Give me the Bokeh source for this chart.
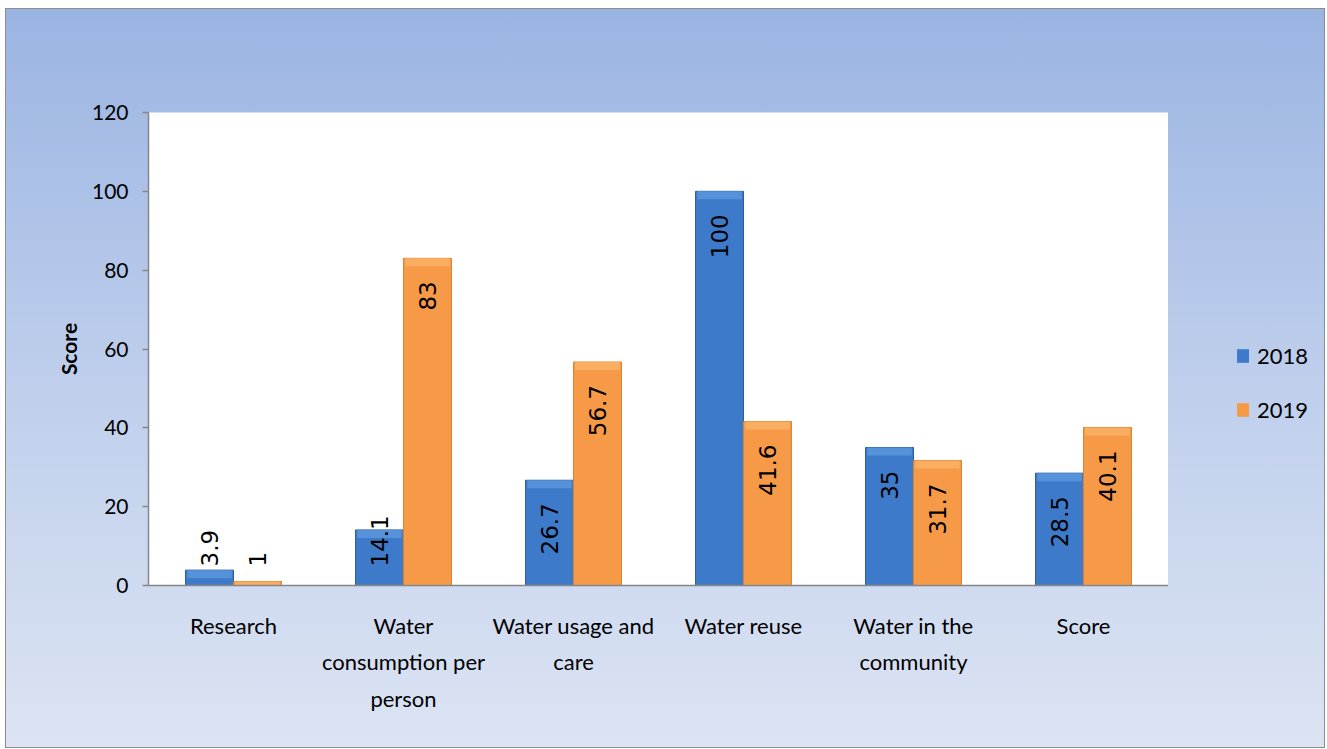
import math
from bokeh.plotting import figure
from bokeh.layouts import row
from bokeh.models import ColumnDataSource, FactorRange, Range1d, FixedTicker, Legend, LegendItem
from bokeh.transform import dodge
from bokeh.core.properties import value
from bokeh.embed import file_html
from bokeh.resources import INLINE

# ---------------- data ----------------
categories = ["Research", "Water\nconsumption per\nperson", "Water usage and\ncare",
              "Water reuse", "Water in the\ncommunity", "Score"]
series_names = ["2018", "2019"]
values_2018 = [3.9, 14.1, 26.7, 100, 35, 28.5]
values_2019 = [1, 83, 56.7, 41.6, 31.7, 40.1]
labels_2018 = ["3.9", "14.1", "26.7", "100", "35", "28.5"]
labels_2019 = ["1", "83", "56.7", "41.6", "31.7", "40.1"]
y_ticks = [0, 20, 40, 60, 80, 100, 120]
y_title = "Score"

# ---------------- layout / style ----------------
H = 740
FRAME_W, FRAME_H = 1020, 473
BL, BT = 143, 104
W_MAIN = BL + FRAME_W
W_LEG = 157
Y_MAX = 120
OFF = 0.141
BW = 0.282
PX_PER_UNIT = FRAME_H / Y_MAX
BEVEL_PX = 8
PAD_TOP = 23
BASE_PAD = 19
MAIN_FONT = "Lato"
LABEL_FONT = "DejaVu Sans"
LABEL_SIZE = 23

BLUE, BLUE_EDGE, BLUE_TOP = "#3D7BCA", "#2C5B9C", "#5592DA"
ORANGE, ORANGE_EDGE, ORANGE_TOP = "#F79A47", "#D9822F", "#FAAE62"

p = figure(x_range=FactorRange(factors=categories, range_padding=0),
           y_range=Range1d(0, Y_MAX),
           width=W_MAIN, height=H, output_backend="svg", toolbar_location=None,
           min_border_left=BL, min_border_top=BT,
           min_border_right=0, min_border_bottom=H - BT - FRAME_H)

p.background_fill_color = "white"
p.border_fill_color = None
p.outline_line_color = None
p.xgrid.visible = False
p.ygrid.visible = False

bevel_units = BEVEL_PX / PX_PER_UNIT
src = ColumnDataSource(dict(
    cat=categories,
    v18=values_2018, v19=values_2019,
    b18=[max(v - bevel_units, 0) for v in values_2018],
    b19=[max(v - bevel_units, 0) for v in values_2019],
))

p.vbar(x=dodge("cat", -OFF, range=p.x_range), top="v18", width=BW, source=src,
       fill_color=BLUE, line_color=BLUE_EDGE, line_width=1)
p.vbar(x=dodge("cat", OFF, range=p.x_range), top="v19", width=BW, source=src,
       fill_color=ORANGE, line_color=ORANGE_EDGE, line_width=1)
# top bevel highlight
p.vbar(x=dodge("cat", -OFF, range=p.x_range), top="v18", bottom="b18", width=BW * 0.93,
       source=src, fill_color=BLUE_TOP, line_color=None)
p.vbar(x=dodge("cat", OFF, range=p.x_range), top="v19", bottom="b19", width=BW * 0.93,
       source=src, fill_color=ORANGE_TOP, line_color=None)


def text_len(s):
    return sum(0.318 * LABEL_SIZE if c == "." else 0.636 * LABEL_SIZE for c in s)


def add_labels(vals, labs, offset):
    inside = dict(cat=[], y=[], t=[])
    base = dict(cat=[], y=[], t=[])
    for c, v, t in zip(categories, vals, labs):
        if v * PX_PER_UNIT - PAD_TOP - text_len(t) >= BASE_PAD:
            inside["cat"].append(c); inside["y"].append(v); inside["t"].append(t)
        else:
            base["cat"].append(c); base["y"].append(0); base["t"].append(t)
    common = dict(x=dodge("cat", offset, range=p.x_range), y="y", text="t", angle=math.pi / 2,
                  text_baseline="middle", text_font=value(LABEL_FONT),
                  text_font_size=f"{LABEL_SIZE}px", text_color="black")
    p.text(source=ColumnDataSource(inside), text_align="right", y_offset=PAD_TOP, **common)
    p.text(source=ColumnDataSource(base), text_align="left", y_offset=-BASE_PAD, **common)


add_labels(values_2018, labels_2018, -OFF)
add_labels(values_2019, labels_2019, OFF)

# axes
AX_COL = "#868686"
p.yaxis.ticker = FixedTicker(ticks=y_ticks)
p.yaxis.axis_label = y_title
p.yaxis.axis_label_text_font = MAIN_FONT
p.yaxis.axis_label_text_font_style = "bold"
p.yaxis.axis_label_text_font_size = "21px"
p.yaxis.axis_label_text_color = "black"
p.yaxis.axis_label_standoff = 8
p.yaxis.major_label_text_font = MAIN_FONT
p.yaxis.major_label_text_font_size = "21px"
p.yaxis.major_label_standoff = 14
p.yaxis.major_tick_in = 0
p.yaxis.major_tick_out = 6
p.yaxis.minor_tick_in = 0
p.yaxis.minor_tick_out = 0
p.yaxis.axis_line_color = AX_COL
p.yaxis.axis_line_width = 1.5
p.yaxis.major_tick_line_color = AX_COL
p.yaxis.major_tick_line_width = 1.5

p.xaxis.major_label_text_font = MAIN_FONT
p.xaxis.major_label_text_font_size = "22px"
p.xaxis.major_label_text_line_height = 1.36
p.xaxis.major_label_standoff = 26
p.xaxis.major_tick_in = 0
p.xaxis.major_tick_out = 0
p.xaxis.axis_line_color = AX_COL
p.xaxis.axis_line_width = 1.5
p.xaxis.major_label_text_color = "black"
p.yaxis.major_label_text_color = "black"

# ---------------- legend (side figure; its zero-width bars lie outside its visible range) ----------------
lf = figure(width=W_LEG, height=H, output_backend="svg", toolbar_location=None,
            x_range=FactorRange(factors=categories), y_range=Range1d(5 * Y_MAX, 6 * Y_MAX),
            min_border=0, x_axis_type=None, y_axis_type=None)
lf.background_fill_color = None
lf.border_fill_color = None
lf.outline_line_color = None
lf.xgrid.visible = False
lf.ygrid.visible = False
lr18 = lf.vbar(x="cat", top="v18", width=0, source=src, fill_color=BLUE, line_color=None)
lr19 = lf.vbar(x="cat", top="v19", width=0, source=src, fill_color=ORANGE, line_color=None)

legend = Legend(items=[LegendItem(label=series_names[0], renderers=[lr18]),
                       LegendItem(label=series_names[1], renderers=[lr19])],
                location=(67, 162), orientation="vertical",
                glyph_width=15, glyph_height=17, label_standoff=7,
                label_text_font=MAIN_FONT, label_text_font_size="22px",
                label_text_color="black",
                label_height=20, spacing=27, padding=0, margin=0,
                border_line_color=None, background_fill_alpha=0)
lf.add_layout(legend)

layout = row(p, lf, spacing=0)
layout.styles = {"background": "linear-gradient(180deg, #9AB4E2 0%, #BBCCEB 45%, #DCE4F3 100%)",
                 "box-shadow": "inset 0 0 0 1px #8c8c8c",
                 "margin-left": "5px", "margin-top": "8px"}

open("out.html", "w").write(file_html(layout, INLINE))
